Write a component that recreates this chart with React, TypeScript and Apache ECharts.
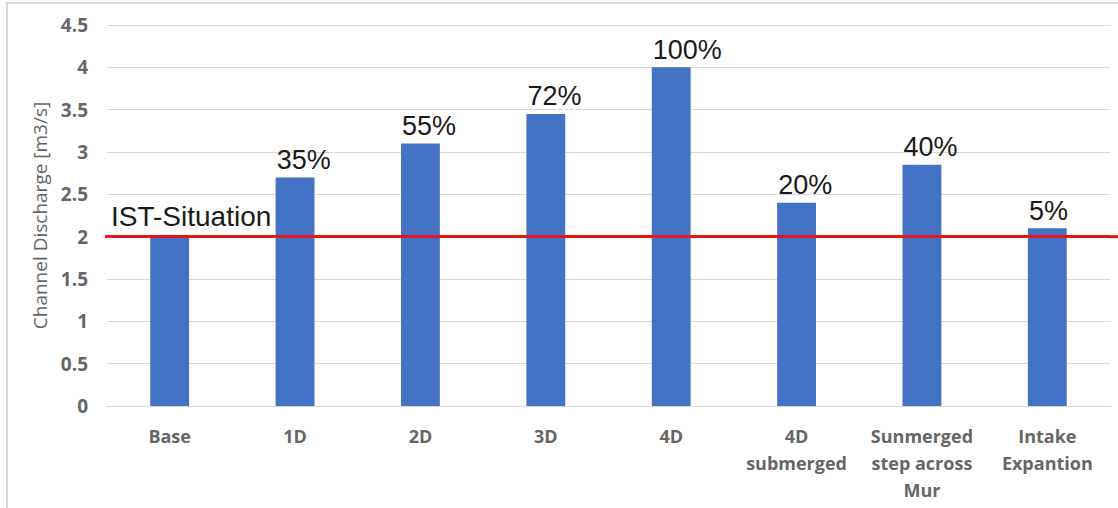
import React, { useEffect, useRef } from "react";
import * as echarts from "echarts";

const categories = [
  "Base",
  "1D",
  "2D",
  "3D",
  "4D",
  "4D\nsubmerged",
  "Sunmerged\nstep across\nMur",
  "Intake\nExpantion",
];
const discharge = [2.0, 2.7, 3.1, 3.45, 4.0, 2.4, 2.85, 2.1];
const increaseLabels = ["", "35%", "55%", "72%", "100%", "20%", "40%", "5%"];
const istValue = 2;
const istLabel = "IST-Situation";
const yAxisName = "Channel Discharge [m3/s]";

export default function App() {
  const ref = useRef<HTMLDivElement>(null);
  useEffect(() => {
    if (!ref.current) return;
    const chart = echarts.init(ref.current, null, { renderer: "svg" });
    const gridLeft = 107;
    const gridRight = 8;
    const option: any = {
      animation: false,
      backgroundColor: "#ffffff",
      grid: { left: gridLeft, right: gridRight, top: 25, bottom: 102 },
      xAxis: {
        type: "category",
        data: categories,
        axisLine: { show: true, lineStyle: { color: "#d9d9d9", width: 1 } },
        axisTick: { show: false },
        axisLabel: {
          color: "#666666",
          fontFamily: "Open Sans",
          fontWeight: "bold",
          fontSize: 18,
          lineHeight: 27,
          margin: 16,
          interval: 0,
        },
      },
      yAxis: {
        type: "value",
        min: 0,
        max: 4.5,
        interval: 0.5,
        name: yAxisName,
        nameLocation: "middle",
        nameGap: 49,
        nameTextStyle: {
          color: "#666666",
          fontFamily: "Open Sans",
          fontSize: 19,
        },
        axisLine: { show: false },
        axisTick: { show: false },
        splitLine: { lineStyle: { color: "#d9d9d9", width: 1 } },
        axisLabel: {
          color: "#666666",
          fontFamily: "Open Sans",
          fontWeight: "bold",
          fontSize: 19,
          margin: 19,
        },
      },
      series: [
        {
          type: "bar",
          data: discharge,
          barWidth: "31%",
          itemStyle: { color: "#4472c4" },
          label: {
            show: true,
            position: [1, -4],
            align: "left",
            verticalAlign: "bottom",
            color: "#1a1a1a",
            fontFamily: "Liberation Sans",
            fontSize: 27,
            formatter: (p: any) => increaseLabels[p.dataIndex],
          },
          markLine: {
            silent: true,
            symbol: "none",
            lineStyle: { color: "#e8161b", width: 3, type: "solid" },
            label: {
              show: true,
              position: "insideStartTop",
              formatter: istLabel,
              color: "#1a1a1a",
              fontFamily: "Liberation Sans",
              fontSize: 28,
              distance: [4, 6],
            },
            data: [{ yAxis: istValue }],
          },
        },
      ],
    };
    chart.setOption(option);
    const yPix = chart.convertToPixel({ yAxisIndex: 0 }, istValue) as number;
    const width = chart.getWidth();
    chart.setOption({
      graphic: [
        {
          type: "rect",
          silent: true,
          shape: { x: 7, y: 3, width: 1300, height: 800 },
          style: { fill: "none", stroke: "#d9d9d9", lineWidth: 2 },
        },
        {
          type: "line",
          silent: true,
          shape: { x1: width - gridRight - 1, y1: yPix, x2: width, y2: yPix },
          style: { stroke: "#e8161b", lineWidth: 3 },
        },
        {
          type: "line",
          silent: true,
          shape: { x1: gridLeft - 2, y1: yPix, x2: gridLeft + 1, y2: yPix },
          style: { stroke: "#e8161b", lineWidth: 3 },
        },
      ],
    });
    return () => chart.dispose();
  }, []);
  return (
    <div
      ref={ref}
      style={{ position: "fixed", left: 0, top: 0, width: 1118, height: 508 }}
    />
  );
}
